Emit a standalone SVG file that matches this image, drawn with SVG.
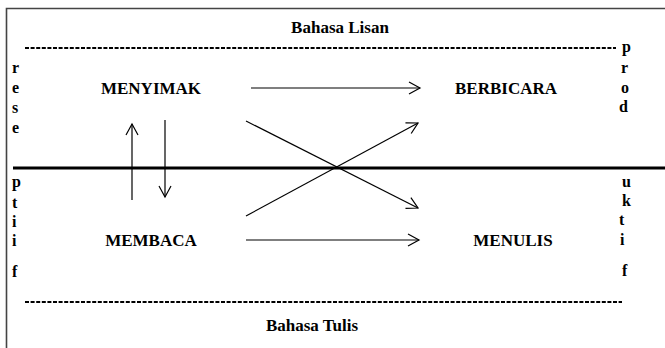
<svg xmlns="http://www.w3.org/2000/svg" width="665" height="348" viewBox="0 0 665 348" font-family="'Liberation Serif', 'Times New Roman', serif" font-weight="bold">
<defs>
<style>
text{fill:#000}
.lbl{font-size:17px}
.ltr{font-size:16px}
.ln{stroke:#000;stroke-width:1.2;fill:none}
.dash{stroke:#000;stroke-width:1.8;stroke-dasharray:4 1.6}
</style>
<marker id="ah" markerWidth="14" markerHeight="14" refX="12" refY="7" orient="auto" markerUnits="userSpaceOnUse">
<path d="M1,1 L12,7 L1,13" fill="none" stroke="#000" stroke-width="1.2"/>
</marker>
</defs>
<rect width="665" height="348" fill="#fff"/>
<path d="M6.5,348 V8.5 H665" fill="none" stroke="#444" stroke-width="1.6"/>
<g id="header">
<text class="lbl" x="340" y="33" text-anchor="middle">Bahasa  Lisan</text>
<line class="dash" x1="25" y1="48" x2="616" y2="48"/>
</g>
<g id="footer">
<line class="dash" x1="25" y1="302" x2="622" y2="302"/>
<text class="lbl" x="312" y="331" text-anchor="middle">Bahasa Tulis</text>
</g>
<line x1="13" y1="168" x2="665" y2="168" stroke="#000" stroke-width="3"/>
<g id="left-side" class="ltr">
<text x="12" y="73">r</text>
<text x="12" y="93">e</text>
<text x="12" y="113">s</text>
<text x="12" y="133">e</text>
<text x="12" y="187">p</text>
<text x="12" y="208">t</text>
<text x="12" y="227">i</text>
<text x="12" y="246">i</text>
<text x="12" y="277">f</text>
</g>
<g id="right-side" class="ltr">
<text x="622" y="52">p</text>
<text x="621" y="73">r</text>
<text x="621" y="93">o</text>
<text x="619" y="112">d</text>
<text x="622" y="187">u</text>
<text x="622" y="206">k</text>
<text x="619" y="225">t</text>
<text x="620" y="245">i</text>
<text x="622" y="276">f</text>
</g>
<g id="menyimak"><text class="lbl" x="151" y="94" text-anchor="middle">MENYIMAK</text></g>
<g id="berbicara"><text class="lbl" x="506" y="94" text-anchor="middle">BERBICARA</text></g>
<g id="membaca"><text class="lbl" x="151" y="246" text-anchor="middle">MEMBACA</text></g>
<g id="menulis"><text class="lbl" x="513" y="246" text-anchor="middle">MENULIS</text></g>
<g id="connectors">
<line class="ln" x1="251" y1="88" x2="420" y2="88" marker-end="url(#ah)"/>
<line class="ln" x1="246" y1="240" x2="419" y2="240" marker-end="url(#ah)"/>
<line class="ln" x1="132" y1="200" x2="132" y2="124" marker-end="url(#ah)"/>
<line class="ln" x1="165" y1="120" x2="165" y2="197" marker-end="url(#ah)"/>
<line class="ln" x1="246" y1="121" x2="418" y2="208" marker-end="url(#ah)"/>
<line class="ln" x1="246" y1="216" x2="418" y2="123" marker-end="url(#ah)"/>
</g>
</svg>
